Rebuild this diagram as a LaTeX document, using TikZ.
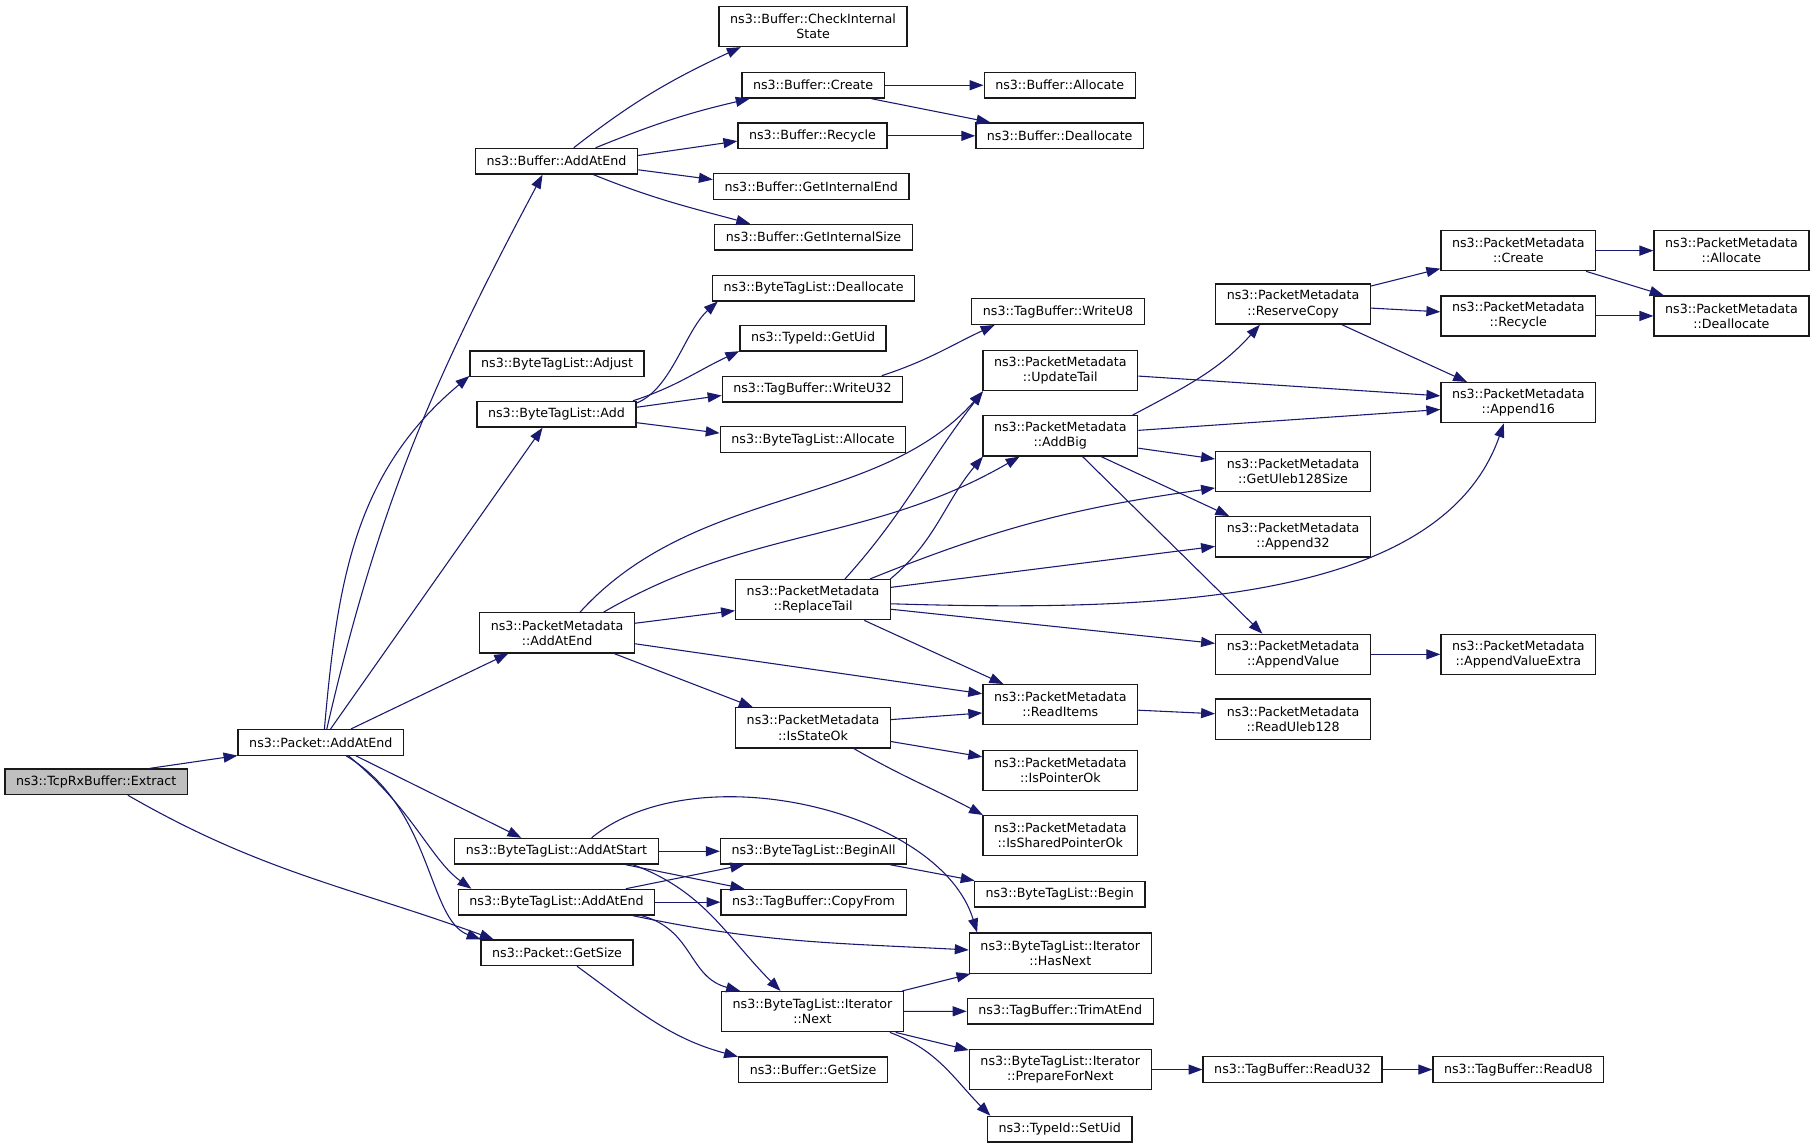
\documentclass[tikz,border=0pt]{standalone}
\usepackage{fontspec}
\setmainfont{DejaVu Sans}
\usetikzlibrary{arrows.meta}
\definecolor{callblue}{RGB}{25,25,112}

\begin{document}
\begin{tikzpicture}[x=0.75pt, y=0.75pt,
    fn/.style={draw=black!90, line width=0.85pt, fill=white, align=center,
      font=\fontsize{8.2}{9.75}\selectfont, inner xsep=7.2pt, inner ysep=1pt,
      minimum height=16.6pt},
    fnn/.style={fn, minimum height=26pt},
    root/.style={fn, fill=black!25},
    call/.style={draw=callblue, line width=0.7pt, -{Triangle[length=9pt,width=6.5pt]}}]
  \useasboundingbox (0,0) rectangle (1568,-991);

  %% caller and first level
  \node[root] (ext) at (83,-675) {ns3::TcpRxBuffer::Extract};
  \node[fn] (pae) at (277,-641) {ns3::Packet::AddAtEnd};
  \node[fn] (bae) at (480.5,-139.2) {ns3::Buffer::AddAtEnd};
  \node[fn] (adj) at (481,-314) {ns3::ByteTagList::Adjust};
  \node[fn] (add) at (480.5,-357.7) {ns3::ByteTagList::Add};
  \node[fnn] (pmae) at (481,-546.4) {ns3::PacketMetadata\\::AddAtEnd};
  \node[fn] (aas) at (480.5,-735) {ns3::ByteTagList::AddAtStart};
  \node[fn] (btae) at (480.5,-779) {ns3::ByteTagList::AddAtEnd};
  \node[fn] (pgs) at (481,-822.7) {ns3::Packet::GetSize};

  %% third column
  \node[fnn] (cis) at (702,-22.8) {ns3::Buffer::CheckInternal\\State};
  \node[fn] (bcr) at (702,-73.6) {ns3::Buffer::Create};
  \node[fn] (brc) at (701.5,-117.3) {ns3::Buffer::Recycle};
  \node[fn] (gie) at (700.5,-161) {ns3::Buffer::GetInternalEnd};
  \node[fn] (gis) at (702.5,-204.8) {ns3::Buffer::GetInternalSize};
  \node[fn] (bdl) at (702.5,-248.7) {ns3::ByteTagList::Deallocate};
  \node[fn] (gud) at (702,-292) {ns3::TypeId::GetUid};
  \node[fn] (w32) at (701.5,-336) {ns3::TagBuffer::WriteU32};
  \node[fn] (bal) at (702,-379.6) {ns3::ByteTagList::Allocate};
  \node[fnn] (rpt) at (702,-517.8) {ns3::PacketMetadata\\::ReplaceTail};
  \node[fnn] (iso) at (702,-628.4) {ns3::PacketMetadata\\::IsStateOk};
  \node[fn] (bga) at (702.5,-735) {ns3::ByteTagList::BeginAll};
  \node[fn] (cpf) at (702.5,-779) {ns3::TagBuffer::CopyFrom};
  \node[fnn] (nxt) at (701.5,-873.5) {ns3::ByteTagList::Iterator\\::Next};
  \node[fn] (bgs) at (702,-923.8) {ns3::Buffer::GetSize};

  %% fourth column
  \node[fn] (bas) at (915,-73.6) {ns3::Buffer::Allocate};
  \node[fn] (bds) at (915,-117.3) {ns3::Buffer::Deallocate};
  \node[fn] (w8) at (913.5,-269) {ns3::TagBuffer::WriteU8};
  \node[fnn] (upt) at (915.5,-320) {ns3::PacketMetadata\\::UpdateTail};
  \node[fnn] (abg) at (915.5,-376.3) {ns3::PacketMetadata\\::AddBig};
  \node[fnn] (rit) at (915.5,-608.5) {ns3::PacketMetadata\\::ReadItems};
  \node[fnn] (ipo) at (915.5,-665.4) {ns3::PacketMetadata\\::IsPointerOk};
  \node[fnn] (isp) at (915.5,-721.6) {ns3::PacketMetadata\\::IsSharedPointerOk};
  \node[fn] (bgn) at (915,-772) {ns3::ByteTagList::Begin};
  \node[fnn] (hnx) at (915.5,-823) {ns3::ByteTagList::Iterator\\::HasNext};
  \node[fn] (tae) at (915.5,-873) {ns3::TagBuffer::TrimAtEnd};
  \node[fnn] (pfn) at (915.5,-923.5) {ns3::ByteTagList::Iterator\\::PrepareForNext};
  \node[fn] (sui) at (915,-975) {ns3::TypeId::SetUid};

  %% the remaining columns
  \node[fnn] (rsc) at (1116.5,-262.5) {ns3::PacketMetadata\\::ReserveCopy};
  \node[fnn] (gus) at (1116.5,-407) {ns3::PacketMetadata\\::GetUleb128Size};
  \node[fnn] (a32) at (1116.5,-463.5) {ns3::PacketMetadata\\::Append32};
  \node[fnn] (apv) at (1116.5,-565) {ns3::PacketMetadata\\::AppendValue};
  \node[fnn] (rul) at (1116.5,-621) {ns3::PacketMetadata\\::ReadUleb128};
  \node[fn] (r32) at (1116,-923.5) {ns3::TagBuffer::ReadU32};
  \node[fnn] (pcr) at (1311,-216.4) {ns3::PacketMetadata\\::Create};
  \node[fnn] (prc) at (1311,-272.8) {ns3::PacketMetadata\\::Recycle};
  \node[fnn] (a16) at (1311,-347.7) {ns3::PacketMetadata\\::Append16};
  \node[fnn] (ave) at (1311,-565) {ns3::PacketMetadata\\::AppendValueExtra};
  \node[fn] (r8) at (1311,-923.5) {ns3::TagBuffer::ReadU8};
  \node[fnn] (pal) at (1495,-216.4) {ns3::PacketMetadata\\::Allocate};
  \node[fnn] (pdl) at (1495,-272.8) {ns3::PacketMetadata\\::Deallocate};

  %% calls out of Extract and Packet::AddAtEnd
  \draw[call] (ext.14) -- (pae.189);
  \draw[call] (ext.337) to[out=-30,in=160] (pgs.168);
  \draw[call] (pae.66) to[out=77,in=-118] (bae.224);
  \draw[call] (pae.75) to[out=85,in=-140] (adj.188);
  \draw[call] (pae.54) -- (add.224);
  \draw[call] (pae.24) -- (pmae.203);
  \draw[call] (pae.339) -- (aas.159);
  \draw[call] (pae.334) .. controls +(55,-45) and +(-35,25) .. (btae.171);
  \draw[call] (pae.332) .. controls +(75,-45) and +(-46,17) .. (pgs.170);

  %% Buffer
  \draw[call] (bae.38) to[out=38,in=-155] (cis.196);
  \draw[call] (bae.19) to[out=22,in=193] (bcr.192);
  \draw[call] (bae.4) -- (brc.184);
  \draw[call] (bae.354) -- (gie.176);
  \draw[call] (bae.340) to[out=-22,in=165] (gis.168);
  \draw[call] (bcr) -- (bas);
  \draw[call] (bcr.347) -- (bds.169);
  \draw[call] (brc) -- (bds);

  %% ByteTagList::Add
  \draw[call] (add.8) .. controls +(30,12) and +(-28,-25) .. (bdl.188);
  \draw[call] (add.10) to[out=18,in=205] (gud.190);
  \draw[call] (add.5) -- (w32.184);
  \draw[call] (add.354) -- (bal.176);
  \draw[call] (w32.11) to[out=18,in=205] (w8.192);

  %% PacketMetadata
  \draw[call] (pmae.42) .. controls +(100,110) and +(-90,-102) .. (upt.195);
  \draw[call] (pmae.24) to[out=30,in=-150] (abg.207);
  \draw[call] (pmae.7) -- (rpt.188);
  \draw[call] (pmae.352) -- (rit.172);
  \draw[call] (pmae.340) -- (iso.161);
  \draw[call] (rpt.33) to[out=48,in=-128] (upt.195);
  \draw[call] (rpt.15) to[out=40,in=-130] (abg.195);
  \draw[call] (rpt.20) to[out=22,in=188] (gus.192);
  \draw[call] (rpt.9) -- (a32.187);
  \draw[call] (rpt.357) .. controls +(230,-7) and +(-54,-155) .. (a16.235);
  \draw[call] (rpt.353) -- (apv.172);
  \draw[call] (rpt.338) -- (rit.160);
  \draw[call] (upt.356) -- (a16.175);
  \draw[call] (abg.16) to[out=28,in=-132] (rsc.212);
  \draw[call] (abg.4) -- (a16.185);
  \draw[call] (abg.351) -- (gus.171);
  \draw[call] (abg.333) -- (a32.162);
  \draw[call] (abg.317) -- (apv.146);
  \draw[call] (rsc.13) -- (pcr.193);
  \draw[call] (rsc.357) -- (prc.177);
  \draw[call] (rsc.337) -- (a16.158);
  \draw[call] (pcr) -- (pal);
  \draw[call] (pcr.343) -- (pdl.163);
  \draw[call] (prc) -- (pdl);
  \draw[call] (apv) -- (ave);
  \draw[call] (rit.356) -- (rul.176);
  \draw[call] (iso.6) -- (rit.186);
  \draw[call] (iso.350) -- (ipo.170);
  \draw[call] (iso.333) to[out=-30,in=152] (isp.165);

  %% ByteTagList and TagBuffer
  \draw[call] (aas) -- (bga);
  \draw[call] (aas.349) -- (cpf.169);
  \draw[call] (aas.21) .. controls +(91,74) and +(-32,105) .. (hnx.166);
  \draw[call] (aas.350) to[out=-20,in=135] (nxt.147);
  \draw[call] (btae.11) -- (bga.191);
  \draw[call] (btae) -- (cpf);
  \draw[call] (btae.350) to[out=-12,in=177] (hnx.178);
  \draw[call] (btae.351) .. controls +(45,-12) and +(-45,12) .. (nxt.164);
  \draw[call] (pgs.326) to[out=-36,in=165] (bgs.170);
  \draw[call] (bga.350) -- (bgn.171);
  \draw[call] (nxt.13) -- (hnx.193);
  \draw[call] (nxt) -- (tae);
  \draw[call] (nxt.346) -- (pfn.168);
  \draw[call] (nxt.345) to[out=-20,in=135] (sui.169);
  \draw[call] (pfn) -- (r32);
  \draw[call] (r32) -- (r8);
\end{tikzpicture}
\end{document}
